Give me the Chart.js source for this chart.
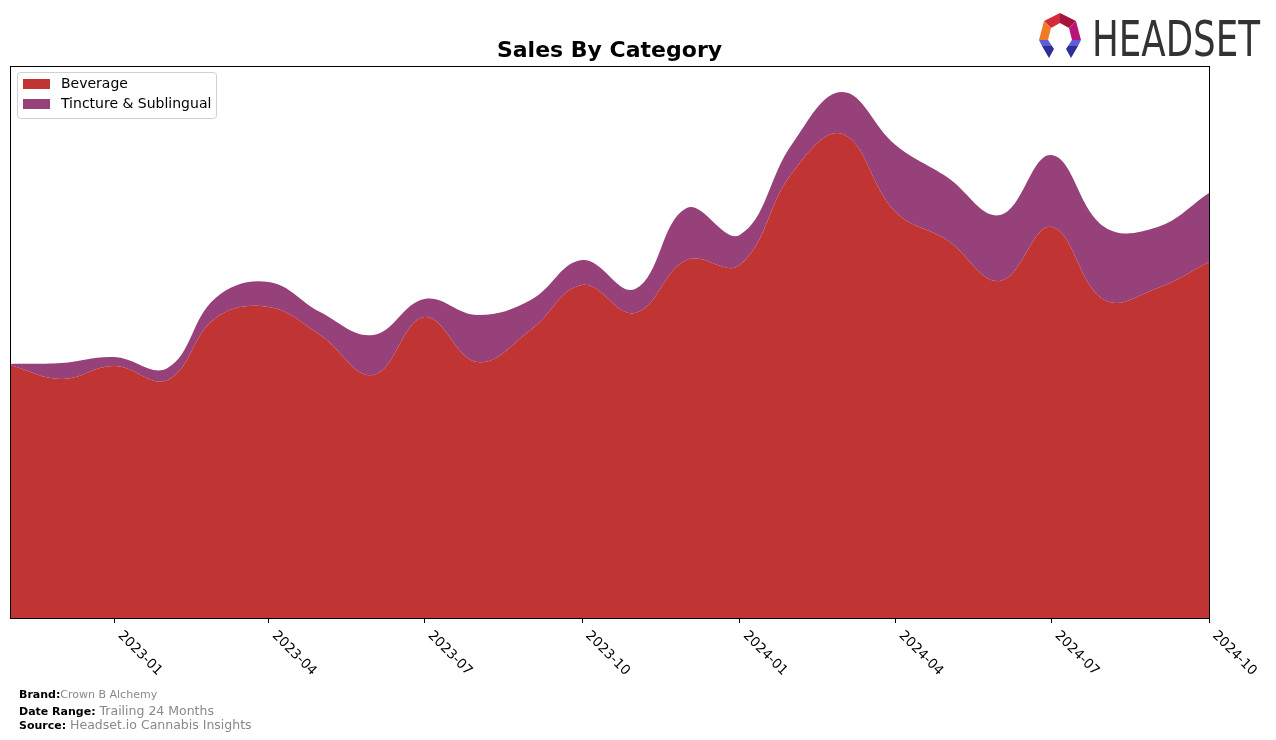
<!DOCTYPE html>
<html>
<head>
<meta charset="utf-8">
<script src="https://cdn.jsdelivr.net/npm/chart.js@4.4.1/dist/chart.umd.min.js"></script>
<style>
    html, body { margin: 0; padding: 0; background: #fff; }
    #wrap { position: relative; width: 1276px; height: 740px; font-family: "DejaVu Sans", sans-serif; }
    #chart { position: absolute; left: 0; top: 0; }
    .foot { position: absolute; left: 19px; font-size: 11px; color: #888; white-space: nowrap; }
    .foot b { color: #000; }
    #logo { position: absolute; left: 1036px; top: 12px; }
</style>
</head>
<body>
<div id="wrap">
    <canvas id="chart" width="1276" height="740"></canvas>
    <svg id="logo" width="230" height="50" viewBox="0 0 230 50">
        <g transform="translate(3,1)">
            <polygon points="21,0 5,8 12,15 21,10" fill="#d42a3a"/>
            <polygon points="21,0 37,8 30,15 21,10" fill="#a5133c"/>
            <polygon points="5,8 0,27 9,27 12,15" fill="#f07a28"/>
            <polygon points="37,8 42,27 33,27 30,15" fill="#b8157a"/>
            <polygon points="0,27 9,27 13,33 3,33" fill="#5c5cd6"/>
            <polygon points="3,33 13,33 15,36 10,45" fill="#2f2f96"/>
            <polygon points="42,27 33,27 29,33 39,33" fill="#5c5cd6"/>
            <polygon points="39,33 29,33 27,36 32,45" fill="#2f2f96"/>
        </g>
        <text x="56" y="44" font-family="'Liberation Sans Narrow', 'DejaVu Sans Condensed', sans-serif" font-size="49" fill="#333" textLength="168" lengthAdjust="spacingAndGlyphs">HEADSET</text>
    </svg>
    <div class="foot" style="top:688px;"><b>Brand:</b>Crown B Alchemy</div>
    <div class="foot" style="top:703px; font-size:12.5px;"><b style="font-size:11px;">Date Range:</b> Trailing 24 Months</div>
    <div class="foot" style="top:717px; font-size:12.5px;"><b style="font-size:11px;">Source:</b> Headset.io Cannabis Insights</div>
</div>
<script>
const months = ['2022-11', '2022-12', '2023-01', '2023-02', '2023-03', '2023-04', '2023-05', '2023-06',
    '2023-07', '2023-08', '2023-09', '2023-10', '2023-11', '2023-12', '2024-01', '2024-02',
    '2024-03', '2024-04', '2024-05', '2024-06', '2024-07', '2024-08', '2024-09', '2024-10'];
const beverage = [253, 239, 252, 238, 300, 311, 283, 243, 301, 256, 288, 333,
    305, 358, 353, 446, 484, 406, 378, 337, 391, 318, 330, 356];
const tincture = [1, 16, 9, 12, 20, 25, 23, 40, 18, 47, 30, 25,
    24, 52, 30, 29, 42, 67, 63, 66, 72, 73, 61, 69];
const tickMonths = ['2023-01', '2023-04', '2023-07', '2023-10', '2024-01', '2024-04', '2024-07', '2024-10'];

const colors = { beverage: '#c03434', tincture: '#96417a' };

function toDay(m) {
    const [y, mo] = m.split('-').map(Number);
    return Date.UTC(y, mo - 1, 1) / 864e5;
}
function fromDay(d) {
    const dt = new Date(d * 864e5);
    return dt.getUTCFullYear() + '-' + String(dt.getUTCMonth() + 1).padStart(2, '0');
}

const frame = {
    id: 'frame',
    afterDraw(chart) {
        const ctx = chart.ctx;
        const a = chart.chartArea;
        ctx.save();
        // box round the plot
        ctx.strokeStyle = '#000';
        ctx.lineWidth = 1;
        ctx.strokeRect(a.left + 0.5, a.top + 0.5, a.right - a.left, a.bottom - a.top);

        // title
        ctx.fillStyle = '#000';
        ctx.font = 'bold 22px "DejaVu Sans"';
        ctx.textAlign = 'center';
        ctx.textBaseline = 'alphabetic';
        ctx.fillText('Sales By Category', (a.left + a.right) / 2, 57);

        // rotated tick labels
        const xs = chart.scales.x;
        ctx.font = '13.5px "DejaVu Sans"';
        ctx.textAlign = 'left';
        xs.ticks.forEach(t => {
            const px = xs.getPixelForValue(t.value);
            ctx.save();
            ctx.translate(px + 3, a.bottom + 18);
            ctx.rotate(Math.PI / 4);
            ctx.fillText(fromDay(t.value), 0, 0);
            ctx.restore();
        });

        // legend
        ctx.fillStyle = '#fff';
        ctx.strokeStyle = '#d0d0d0';
        ctx.beginPath();
        ctx.roundRect(17.5, 72.5, 199, 46, 3);
        ctx.fill();
        ctx.stroke();
        ctx.font = '14px "DejaVu Sans"';
        ctx.textBaseline = 'middle';
        chart.data.datasets.forEach((ds, i) => {
            const y = 84 + i * 20;
            ctx.fillStyle = ds.backgroundColor;
            ctx.fillRect(23, y - 5, 27, 10);
            ctx.fillStyle = '#000';
            ctx.fillText(ds.label, 61, y + 0.5);
        });
        ctx.restore();
    }
};

new Chart(document.getElementById('chart'), {
    type: 'line',
    data: {
        datasets: [{
            label: 'Beverage',
            data: months.map((m, i) => ({ x: toDay(m), y: beverage[i] })),
            backgroundColor: colors.beverage,
            borderColor: colors.beverage,
            borderWidth: 0,
            fill: 'origin',
            pointRadius: 0,
            tension: 0.4
        }, {
            label: 'Tincture & Sublingual',
            data: months.map((m, i) => ({ x: toDay(m), y: tincture[i] })),
            backgroundColor: colors.tincture,
            borderColor: colors.tincture,
            borderWidth: 0,
            fill: '-1',
            pointRadius: 0,
            tension: 0.4
        }]
    },
    options: {
        responsive: false,
        animation: false,
        layout: { padding: { left: 10, top: 66, right: 67, bottom: 0 } },
        plugins: {
            legend: { display: false },
            title: { display: false },
            tooltip: { enabled: false }
        },
        scales: {
            x: {
                type: 'linear',
                min: toDay(months[0]),
                max: toDay(months[months.length - 1]),
                afterBuildTicks: (scale) => { scale.ticks = tickMonths.map(m => ({ value: toDay(m) })); },
                afterFit: (scale) => { scale.height = 122; },
                grid: { drawOnChartArea: false, drawTicks: true, tickLength: 5, color: '#000' },
                border: { display: false },
                ticks: { display: false }
            },
            y: {
                stacked: true,
                min: 0,
                max: 552,
                afterFit: (scale) => { scale.width = 0; },
                grid: { display: false },
                border: { display: false },
                ticks: { display: false }
            }
        }
    },
    plugins: [frame]
});
</script>
</body>
</html>
